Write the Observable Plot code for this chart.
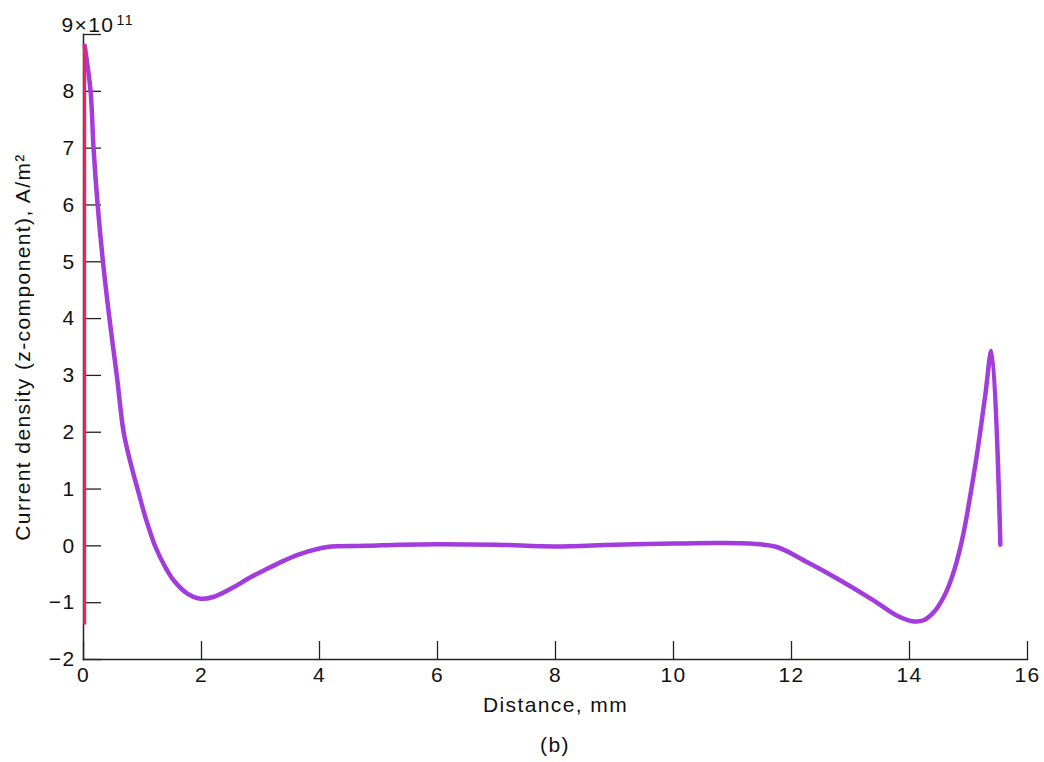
<!DOCTYPE html>
<html>
<head>
<meta charset="utf-8">
<script src="https://cdn.jsdelivr.net/npm/d3@7"></script>
<script src="https://cdn.jsdelivr.net/npm/@observablehq/plot@0.6"></script>
<style>
  body { margin: 0; background: #fff; font-family: "Liberation Sans", Arial, sans-serif; }
  #chart svg text { letter-spacing: 1.4px; }
  #caption { width: 1044px; position: relative; height: 37px; font-size: 21px; letter-spacing: 1.4px; color: #111; }
  #caption span { position: absolute; left: 555px; transform: translateX(-50%); top: 8px; }
</style>
</head>
<body>
<div id="chart"></div>
<div id="caption"><span>(b)</span></div>
<script>
// Distance (mm) and current density (×10^11 A/m²) — purple curve
const distance = [0.02, 0.12, 0.17, 0.24, 0.33, 0.44, 0.57, 0.68, 0.80, 0.93, 1.05, 1.22, 1.40, 1.53, 1.76, 1.98, 2.20, 2.54, 2.80, 3.12, 3.40, 3.68, 4.13, 4.81, 5.37, 6.0, 7.0, 8.0, 9.0, 10.0, 10.7, 11.3, 11.75, 12.27, 12.83, 13.39, 13.79, 14.07, 14.24, 14.41, 14.58, 14.72, 14.89, 15.12, 15.28, 15.39, 15.54];
const density  = [8.8, 8.0, 7.0, 6.0, 5.0, 4.0, 2.95, 2.0, 1.45, 0.95, 0.5, -0.02, -0.40, -0.61, -0.84, -0.93, -0.90, -0.73, -0.57, -0.40, -0.26, -0.14, -0.02, 0.0, 0.02, 0.03, 0.02, -0.01, 0.02, 0.04, 0.05, 0.04, -0.02, -0.29, -0.61, -0.96, -1.23, -1.33, -1.31, -1.17, -0.90, -0.55, 0.10, 1.45, 2.62, 3.43, 0.02];
// Red vertical line near the origin
const redDistance = [0.02, 0.02];
const redDensity = [8.8, -1.36];
// Ticks
const xTicks = [0, 2, 4, 6, 8, 10, 12, 14, 16];
const yTicks = [-2, -1, 0, 1, 2, 3, 4, 5, 6, 7, 8, 9];
const topBase = "9×10";
const topExp = "11";

const purple = distance.map((d, i) => ({x: d, y: density[i]}));
const red = redDistance.map((d, i) => ({x: d, y: redDensity[i]}));

const chart = Plot.plot({
  width: 1044,
  height: 725,
  marginLeft: 83,
  marginRight: 17,
  marginTop: 34,
  marginBottom: 66,
  style: {fontFamily: "Liberation Sans, Arial, sans-serif", fontSize: "21px", color: "#111", background: "#fff"},
  x: {domain: [0, 16]},
  y: {domain: [-2, 9]},
  marks: [
    Plot.axisX(xTicks, {tickSize: 0, tickPadding: 8, fontSize: 21, label: "Distance, mm", labelAnchor: "center", labelArrow: "none", labelOffset: 52}),
    Plot.axisX(xTicks, {tickSize: -18, text: null, label: null, stroke: "#222", strokeWidth: 1.3}),
    Plot.axisY(yTicks, {tickSize: 0, tickPadding: 8, fontSize: 21, tickFormat: d => d === 9 ? "" : (d < 0 ? "\u2212" + (-d) : String(d)), label: "Current density (z-component), A/m²", labelAnchor: "center", labelArrow: "none", labelOffset: 68}),
    Plot.axisY(yTicks, {tickSize: -18, text: null, label: null, stroke: "#222", strokeWidth: 1.3}),
    Plot.frame({anchor: "left", stroke: "#222", strokeWidth: 1.5}),
    Plot.frame({anchor: "bottom", stroke: "#222", strokeWidth: 1.5}),
    Plot.text([9], {x: 0, y: d => d, text: () => topBase, textAnchor: "start", lineAnchor: "bottom", dx: -22, dy: -3, fontSize: 21, fill: "#111"}),
    Plot.text([9], {x: 0, y: d => d, text: () => topExp, textAnchor: "start", lineAnchor: "bottom", dx: 33, dy: -10, fontSize: 14, fill: "#111"}),
    Plot.line(purple, {x: "x", y: "y", stroke: "#a23cdd", strokeWidth: 4.5, curve: "catmull-rom"}),
    Plot.line(red, {x: "x", y: "y", stroke: "#ff1b5c", strokeWidth: 3})
  ]
});
document.getElementById("chart").appendChild(chart);
</script>
</body>
</html>
